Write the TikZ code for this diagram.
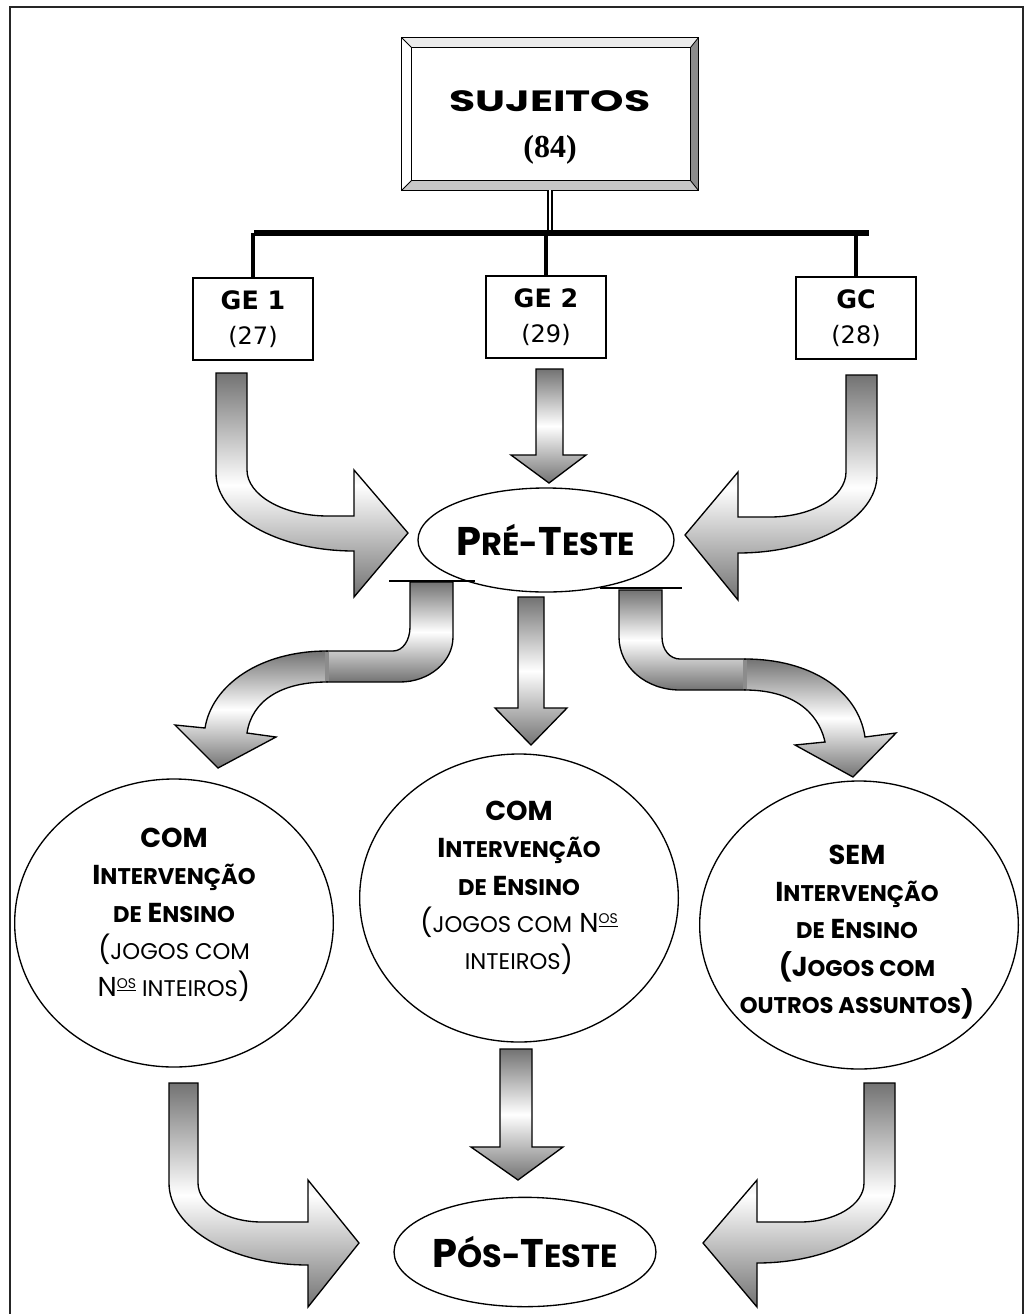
\documentclass[tikz,border=0pt]{standalone}
\usepackage{fontspec}
\usepackage{graphicx}
\usetikzlibrary{
    shapes.geometric,
    calc,
    positioning
}
\newfontfamily\comicfont{Poppins}
\newfontfamily\gefont{DejaVu Sans}
\newfontfamily\timesfont{Liberation Serif}
\newcommand\scs[1]{{\fontsize{17}{18}\selectfont #1}}
\newcommand\sct[1]{{\fontsize{24}{27}\selectfont #1}}
\newcommand\nos{N\raisebox{6.5pt}{\fontsize{10.5}{10.5}\selectfont\underline{OS}}}
\tikzset{
    gebox/.style={draw, line width=1pt, minimum width=90pt, minimum height=61.5pt, inner sep=0pt, align=center, font=\gefont\fontsize{18}{26}\selectfont},
    teste/.style={draw, ellipse, line width=1pt, minimum width=192pt, minimum height=78pt, inner sep=0pt, font=\comicfont\bfseries\fontsize{30}{32}\selectfont},
    grupo/.style={draw, ellipse, line width=1pt, minimum width=239pt, minimum height=216pt, inner sep=0pt},
    eltext/.style={align=center, font=\comicfont\fontsize{20.5}{28}\selectfont},
    blockarrow/.style={draw=black, line width=1pt, top color=black!55, bottom color=black!55, middle color=white},
    seam/.style={draw=black!45, line width=3pt}
}

\begin{document}
\begin{tikzpicture}[x=0.75pt, y=-0.75pt]
    \useasboundingbox (0,0) rectangle (1028,1314);
    % moldura
    \draw[line width=1.5pt, black!85] (10,1314) -- (10,7) -- (1023,7) -- (1023,1314);

    % sujeitos
    \node[minimum width=222pt, minimum height=114pt, inner sep=0pt] (suj) at (550,114) {};
    \fill[black!8] (suj.north west) -- (suj.north east) -- ($(suj.north east)+(-8,10)$) -- ($(suj.north west)+(10,10)$) -- cycle;
    \fill[black!45] (suj.north east) -- (suj.south east) -- ($(suj.south east)+(-8,-10)$) -- ($(suj.north east)+(-8,10)$) -- cycle;
    \fill[black!22] (suj.south west) -- (suj.south east) -- ($(suj.south east)+(-8,-10)$) -- ($(suj.south west)+(10,-10)$) -- cycle;
    \draw[line width=1pt] (suj.north west) rectangle (suj.south east);
    \draw[line width=1pt] ($(suj.north west)+(10,10)$) rectangle ($(suj.south east)+(-8,-10)$);
    \draw[line width=0.6pt]
        (suj.north west) -- ($(suj.north west)+(10,10)$)
        (suj.north east) -- ($(suj.north east)+(-8,10)$)
        (suj.south west) -- ($(suj.south west)+(10,-10)$)
        (suj.south east) -- ($(suj.south east)+(-8,-10)$);
    \node[anchor=base, font=\comicfont\bfseries\fontsize{22}{24}\selectfont] (sujname) at (550,111) {\scalebox{1.45}[1]{SUJEITOS}};
    \node[anchor=base, font=\timesfont\bfseries\fontsize{24}{26}\selectfont] (sujnum) at (550,157) {(84)};

    % grupos
    \node[gebox] (ge1) at (253,319) {{\bfseries\fontsize{19}{26}\selectfont GE 1}\\(27)};
    \node[gebox] (ge2) at (546,317) {{\bfseries\fontsize{19}{26}\selectfont GE 2}\\(29)};
    \node[gebox] (gc) at (856,318) {{\bfseries\fontsize{19}{26}\selectfont GC}\\(28)};
    \coordinate (barl) at (254,233);
    \coordinate (barr) at (869,233);
    \draw[double, line width=1.1pt, double distance=2.2pt] (suj.south) -- (suj.south |- barl);
    \draw[line width=4pt] (barl) -- (barr);
    \draw[line width=2.5pt]
        (ge1.north) -- (ge1.north |- barl)
        (ge2.north) -- (ge2.north |- barl)
        (gc.north) -- (gc.north |- barl);

    % pre-teste
    \node[teste] (pre) at (546,540) {P\sct{RÉ-}T\sct{ESTE}};
    \draw[blockarrow] (216,373) -- (247,373) -- (247,470) .. controls (247,495) and (283,516) .. (328,516) -- (354,516) -- (354,470) -- (408,533) -- (354,597) -- (354,551) .. controls (278,551) and (216,516) .. (216,473) -- cycle;
    \draw[blockarrow] (536,369) -- (563,369) -- (563,455) -- (586,455) -- (549,483) -- (511,455) -- (536,455) -- cycle;
    \draw[blockarrow] (846,375) -- (877,375) -- (877,475) .. controls (877,518) and (815,553) .. (738,553) -- (738,600) -- (685,535) -- (738,472) -- (738,517) -- (770,517) .. controls (812,517) and (846,497) .. (846,472) -- cycle;

    % setas para os grupos
    \draw[blockarrow] (410,582) -- (453,582) -- (453,637) .. controls (453,662) and (429,682) .. (400,682) -- (327,682) -- (327,651) -- (393,651) .. controls (403,651) and (410,640) .. (410,627) -- cycle;
    \draw[blockarrow] (327,651) .. controls (260,651) and (212,685) .. (205,728) -- (175,725) -- (218,768) -- (276,737) -- (247,733) .. controls (252,700) and (282,682) .. (327,682) -- cycle;
    \draw[seam] (327,652) -- (327,681);
    \draw[line width=1.5pt] (389,581) -- (475,581);
    \draw[blockarrow] (518,597) -- (544,597) -- (544,708) -- (567,708) -- (531,745) -- (495,708) -- (518,708) -- cycle;
    \draw[blockarrow] (619,590) -- (662,590) -- (662,637) .. controls (662,650) and (670,659) .. (680,659) -- (745,659) -- (745,690) -- (680,690) .. controls (646,690) and (619,667) .. (619,637) -- cycle;
    \draw[blockarrow] (745,659) .. controls (810,659) and (858,690) .. (865,737) -- (896,733) -- (853,777) -- (795,745) -- (825,742) .. controls (818,710) and (790,690) .. (745,690) -- cycle;
    \draw[seam] (745,660) -- (745,689);
    \draw[line width=1.5pt] (600,588) -- (682,588);

    % intervencao
    \node[grupo] (com1) at (174,923) {};
    \node[grupo] (com2) at (519,898) {};
    \node[grupo] (sem) at (859,925) {};
    \node[eltext] (com1txt) at (174,915) {{\bfseries COM}\\{\bfseries I\scs{NTERVENÇÃO}}\\{\bfseries\scs{DE} E\scs{NSINO}}\\(\scs{JOGOS COM}\\\nos\scs{ INTEIROS})};
    \node[eltext] (com2txt) at (519,888) {{\bfseries COM}\\{\bfseries I\scs{NTERVENÇÃO}}\\{\bfseries\scs{DE} E\scs{NSINO}}\\(\scs{JOGOS COM} \nos\\\scs{INTEIROS})};
    \node[eltext] (semtxt) at (857,932) {{\bfseries SEM}\\{\bfseries I\scs{NTERVENÇÃO}}\\{\bfseries\scs{DE} E\scs{NSINO}}\\{\bfseries (J\scs{OGOS COM}}\\{\bfseries\scs{OUTROS ASSUNTOS})}};

    % pos-teste
    \node[teste, minimum width=191pt, minimum height=82pt] (pos) at (525,1252) {P\sct{ÓS-}T\sct{ESTE}};
    \draw[blockarrow] (169,1083) -- (198,1083) -- (198,1183) .. controls (198,1205) and (227,1222) .. (262,1222) -- (308,1222) -- (308,1180) -- (359,1243) -- (308,1307) -- (308,1265) .. controls (231,1265) and (169,1228) .. (169,1183) -- cycle;
    \draw[blockarrow] (500,1049) -- (532,1049) -- (532,1147) -- (563,1147) -- (518,1180) -- (471,1147) -- (500,1147) -- cycle;
    \draw[blockarrow] (864,1083) -- (895,1083) -- (895,1183) .. controls (895,1228) and (833,1263) .. (757,1263) -- (757,1307) -- (703,1243) -- (757,1180) -- (757,1222) -- (800,1222) .. controls (835,1222) and (864,1205) .. (864,1183) -- cycle;
\end{tikzpicture}
\end{document}
